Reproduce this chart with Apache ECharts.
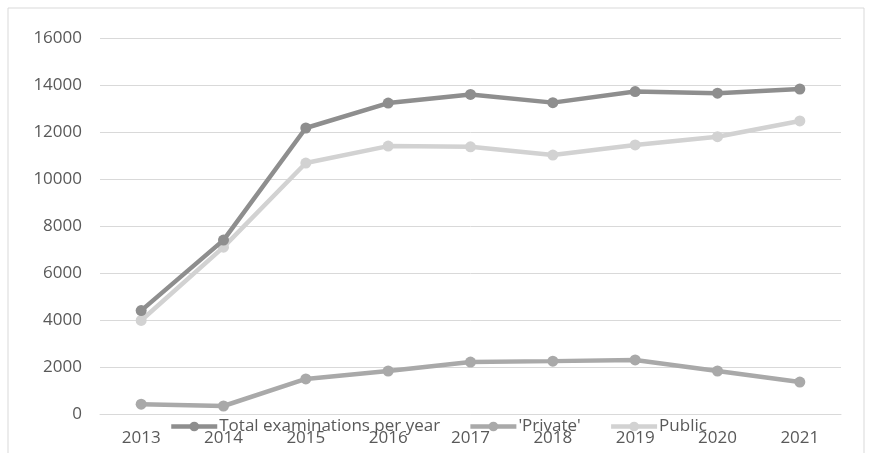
<!DOCTYPE html>
<html>
<head>
<meta charset="utf-8">
<style>
html,body{margin:0;padding:0;background:#fff;}
#chart{width:869px;height:453px;}
</style>
<script src="https://cdn.jsdelivr.net/npm/echarts@6/dist/echarts.min.js"></script>
</head>
<body>
<div id="chart"></div>
<script>
// 数据
var years = ['2013','2014','2015','2016','2017','2018','2019','2020','2021'];
var totalExams = [4400, 7400, 12170, 13230, 13600, 13250, 13720, 13650, 13830];
var privateExams = [420, 340, 1490, 1830, 2210, 2250, 2300, 1830, 1360];
var publicExams = [3980, 7100, 10680, 11400, 11370, 11020, 11450, 11800, 12470];
var seriesNames = ['Total examinations per year', "'Private'", 'Public'];
var seriesColors = ['#8e8e8e', '#a9a9a9', '#d2d2d2'];

var myChart = echarts.init(document.getElementById('chart'));

function mkSeries(name, color, data, z){
	return {
		name: name,
		type: 'line',
		data: data,
		z: z,
		symbol: 'circle',
		symbolSize: 11,
		lineStyle: {color: color, width: 4.5},
		itemStyle: {color: color},
		emphasis: {disabled: true}
	};
}

var option = {
	animation: false,
	textStyle: {fontFamily: 'Open Sans'},
	graphic: [{
		type: 'rect',
		shape: {x: 8, y: 8, width: 856, height: 460},
		style: {fill: 'none', stroke: '#d9d9d9', lineWidth: 1},
		silent: true
	}],
	grid: {left: 100, right: 28, top: 38, bottom: 39},
	legend: {
		data: seriesNames,
		left: 164,
		top: 413,
		itemWidth: 46,
		itemHeight: 12,
		itemGap: 28,
		lineStyle: {width: 4.5},
		textStyle: {color: '#595959', fontSize: 17, fontFamily: 'Open Sans', padding: [0, 0, 0, -3]}
	},
	xAxis: {
		type: 'category',
		data: years,
		boundaryGap: true,
		axisLine: {show: true, lineStyle: {color: '#d9d9d9', width: 1}},
		axisTick: {show: false},
		axisLabel: {color: '#595959', fontSize: 17, margin: 16}
	},
	yAxis: {
		type: 'value',
		min: 0,
		max: 16000,
		interval: 2000,
		axisLine: {show: false},
		axisTick: {show: false},
		axisLabel: {
			color: '#595959', fontSize: 17, margin: 18,
			formatter: function(v){ return String(v); }
		},
		splitLine: {lineStyle: {color: '#d9d9d9', width: 1}}
	},
	series: [
		mkSeries(seriesNames[0], seriesColors[0], totalExams, 4),
		mkSeries(seriesNames[1], seriesColors[1], privateExams, 3),
		mkSeries(seriesNames[2], seriesColors[2], publicExams, 2)
	]
};

myChart.setOption(option);
</script>
</body>
</html>
